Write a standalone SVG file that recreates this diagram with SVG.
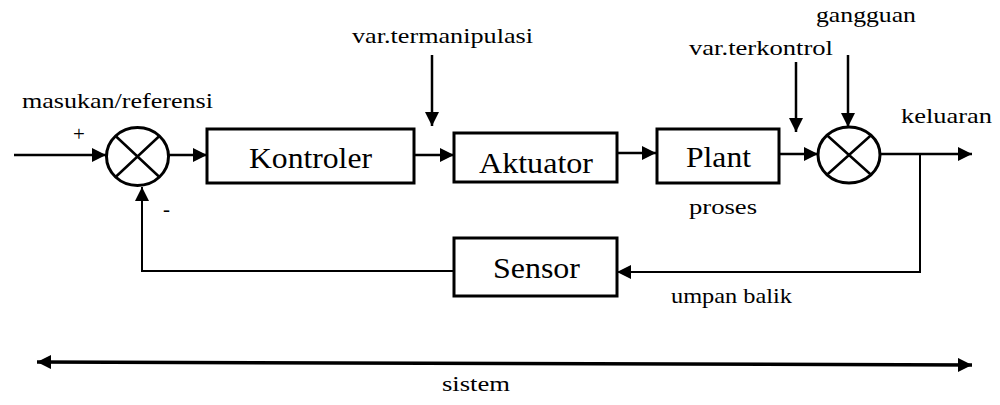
<svg xmlns="http://www.w3.org/2000/svg" width="1000" height="405" viewBox="0 0 1000 405">
<defs>
<style>
.ln{fill:none;stroke:#000;stroke-width:2.5}
.bx{fill:#fff;stroke:#000;stroke-width:3}
.sj{fill:#fff;stroke:#000;stroke-width:3}
.x{stroke:#000;stroke-width:2.5}
text{font-family:'Liberation Serif','DejaVu Serif','Times New Roman',Times,serif;fill:#000}
</style>
<marker id="ah" markerUnits="userSpaceOnUse" markerWidth="16" markerHeight="16" refX="14" refY="7" orient="auto-start-reverse">
<path d="M0,0 L14,7 L0,14 Z" fill="#000"/>
</marker>
</defs>
<rect width="1000" height="405" fill="#fff"/>
<g id="connectors">
<path class="ln" d="M14,155 H106" marker-end="url(#ah)"/>
<path class="ln" d="M168,155 H207" marker-end="url(#ah)"/>
<path class="ln" d="M414,155 H454" marker-end="url(#ah)"/>
<path class="ln" d="M432,55 V126" marker-end="url(#ah)"/>
<path class="ln" d="M617,153 H656" marker-end="url(#ah)"/>
<path class="ln" d="M779,154 H818" marker-end="url(#ah)"/>
<path class="ln" d="M796,62 V132" marker-end="url(#ah)"/>
<path class="ln" d="M848,55 V127" marker-end="url(#ah)"/>
<path class="ln" d="M880,154 H972" marker-end="url(#ah)"/>
<path class="ln" style="stroke-width:2" d="M920,154 V272 H617" marker-end="url(#ah)"/>
<path class="ln" style="stroke-width:2" d="M454,271 H142 V187" marker-end="url(#ah)"/>
<path class="ln" style="stroke-width:3.5" d="M37,362 L972,365" marker-start="url(#ah)" marker-end="url(#ah)"/>
</g>
<g id="sum1">
<ellipse class="sj" cx="137.5" cy="156.5" rx="31" ry="29"/>
<path class="x" d="M115.6,136 L159.4,177 M159.4,136 L115.6,177"/>
</g>
<g id="sum2">
<ellipse class="sj" cx="849" cy="155" rx="31" ry="28"/>
<path class="x" d="M827,135.2 L871,174.8 M871,135.2 L827,174.8"/>
</g>
<g id="kontroler">
<rect class="bx" x="207" y="129" width="207" height="54"/>
<text font-size="30" x="249" y="168" textLength="123" lengthAdjust="spacingAndGlyphs">Kontroler</text>
</g>
<g id="aktuator">
<rect class="bx" x="454" y="133" width="163" height="49"/>
<text font-size="30" x="479" y="173" textLength="114" lengthAdjust="spacingAndGlyphs">Aktuator</text>
</g>
<g id="plant">
<rect class="bx" x="657" y="129" width="122" height="54"/>
<text font-size="30" x="686" y="167" textLength="65" lengthAdjust="spacingAndGlyphs">Plant</text>
</g>
<g id="sensor">
<rect class="bx" x="454" y="238" width="163" height="58"/>
<text font-size="30" x="493" y="278" textLength="87" lengthAdjust="spacingAndGlyphs">Sensor</text>
</g>
<g id="labels" font-size="21">
<text x="22" y="108" textLength="191" lengthAdjust="spacingAndGlyphs">masukan/referensi</text>
<text x="73" y="141">+</text>
<text x="163" y="216">-</text>
<text x="352" y="43" textLength="181" lengthAdjust="spacingAndGlyphs">var.termanipulasi</text>
<text x="689" y="55" textLength="144" lengthAdjust="spacingAndGlyphs">var.terkontrol</text>
<text x="816" y="22" textLength="100" lengthAdjust="spacingAndGlyphs">gangguan</text>
<text x="901" y="123" textLength="91" lengthAdjust="spacingAndGlyphs">keluaran</text>
<text x="689" y="214" textLength="68" lengthAdjust="spacingAndGlyphs">proses</text>
<text x="671" y="303" textLength="121" lengthAdjust="spacingAndGlyphs">umpan balik</text>
<text x="442" y="391" textLength="68" lengthAdjust="spacingAndGlyphs">sistem</text>
</g>
</svg>
